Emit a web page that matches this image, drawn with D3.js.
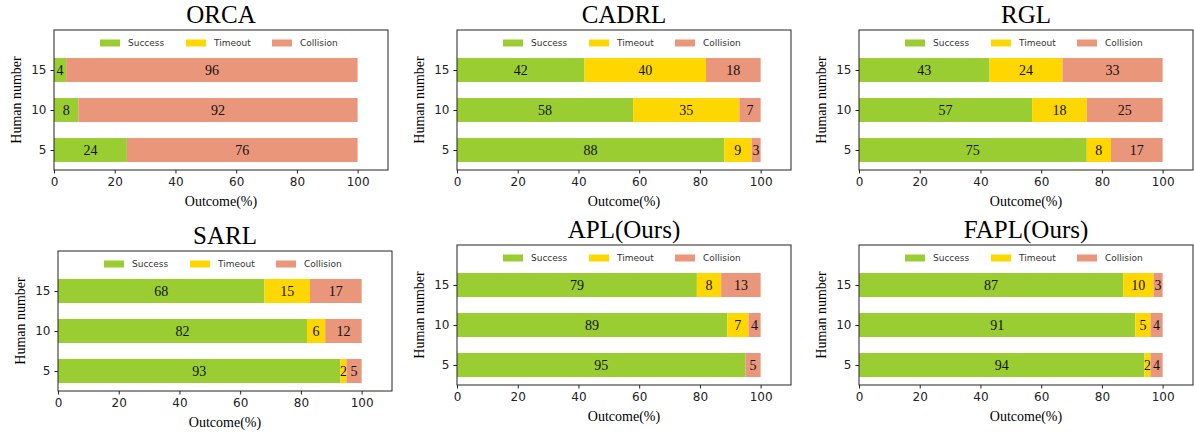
<!DOCTYPE html>
<html>
<head>
<meta charset="utf-8">
<script src="https://cdn.jsdelivr.net/npm/d3@7"></script>
<style>
  body { margin: 0; background: #fff; }
  svg { display: block; }
  .tick text { font-family: "DejaVu Sans", sans-serif; font-size: 12px; fill: #222; }
</style>
</head>
<body>
<svg id="chart" width="1194" height="433"></svg>
<script>
// data
const methods = ["ORCA", "CADRL", "RGL", "SARL", "APL(Ours)", "FAPL(Ours)"];
const humanNumbers = [5, 10, 15];
const outcomes = ["Success", "Timeout", "Collision"];
const successVals   = [[24, 8, 4], [88, 58, 42], [75, 57, 43], [93, 82, 68], [95, 89, 79], [94, 91, 87]];
const timeoutVals   = [[0, 0, 0], [9, 35, 40], [8, 18, 24], [2, 6, 15], [0, 7, 8], [2, 5, 10]];
const collisionVals = [[76, 92, 96], [3, 7, 18], [17, 25, 33], [5, 12, 17], [5, 4, 13], [4, 4, 3]];
const xTicks = [0, 20, 40, 60, 80, 100];

const colors = d3.scaleOrdinal().domain(outcomes).range(["#9acd32", "#ffd700", "#e9967a"]);

// where each subplot's axes box sits
const panels = [
  {left: 54, top: 30}, {left: 457, top: 30}, {left: 859, top: 30},
  {left: 58, top: 251}, {left: 457, top: 245}, {left: 859, top: 245}
];
const boxW = 334, boxH = 140;

const svg = d3.select("#chart");

methods.forEach((name, m) => {
  const p = panels[m];
  const g = svg.append("g").attr("transform", `translate(${p.left},${p.top})`);

  const x = d3.scaleLinear().domain([0, 110]).range([0, boxW]);
  const y = d3.scaleLinear().domain([-0.5, 3]).range([boxH, 0]);

  const rows = humanNumbers.map((h, i) => ({
    idx: i, Success: successVals[m][i], Timeout: timeoutVals[m][i], Collision: collisionVals[m][i]
  }));
  const stacked = d3.stack().keys(outcomes)(rows);

  const layers = g.selectAll(".layer").data(stacked).enter().append("g")
    .attr("fill", d => colors(d.key));
  layers.selectAll("rect").data(d => d).enter().append("rect")
    .attr("x", d => x(d[0]))
    .attr("width", d => x(d[1]) - x(d[0]))
    .attr("y", d => y(d.data.idx + 0.3))
    .attr("height", d => y(d.data.idx - 0.3) - y(d.data.idx + 0.3));

  // value labels, skip empty segments
  layers.selectAll("text").data(d => d.filter(v => v[1] - v[0] > 0)).enter().append("text")
    .attr("x", d => x((d[0] + d[1]) / 2))
    .attr("y", d => y(d.data.idx))
    .attr("dy", "0.35em")
    .attr("text-anchor", "middle")
    .attr("fill", "#111")
    .style("font-family", "Liberation Serif, serif")
    .style("font-size", "14px")
    .text(d => d[1] - d[0]);

  // axes
  g.append("g").attr("transform", `translate(0,${boxH})`)
    .call(d3.axisBottom(x).tickValues(xTicks).tickSize(3.5).tickSizeOuter(0).tickPadding(4))
    .call(a => a.select(".domain").remove());
  g.append("g")
    .call(d3.axisLeft(y).tickValues([0, 1, 2]).tickFormat(i => humanNumbers[i]).tickSize(3.5).tickSizeOuter(0).tickPadding(4))
    .call(a => a.select(".domain").remove());
  g.selectAll(".tick line").attr("stroke", "#222");

  g.append("rect").attr("width", boxW).attr("height", boxH)
    .attr("fill", "none").attr("stroke", "#222").attr("stroke-width", 1);

  // legend, upper centre, 3 columns
  const leg = g.append("g").attr("transform", `translate(${boxW / 2 - 121},13)`);
  outcomes.forEach((o, k) => {
    const it = leg.append("g").attr("transform", `translate(${k * 86},0)`);
    it.append("rect").attr("x", 0).attr("y", -3.5).attr("width", 20).attr("height", 7).attr("fill", colors(o));
    it.append("text").attr("x", 28).attr("y", 0).attr("dy", "0.35em")
      .style("font-family", "DejaVu Sans, sans-serif").style("font-size", "9px").attr("fill", "#333")
      .text(o);
  });

  // titles
  g.append("text").attr("x", boxW / 2).attr("y", -7).attr("text-anchor", "middle")
    .style("font-family", "Liberation Serif, serif").style("font-size", "25px").text(name);
  g.append("text").attr("x", boxW / 2).attr("y", boxH + 36).attr("text-anchor", "middle")
    .style("font-family", "Liberation Serif, serif").style("font-size", "14px").text("Outcome(%)");
  g.append("text").attr("transform", `translate(-33,${boxH / 2}) rotate(-90)`).attr("text-anchor", "middle")
    .style("font-family", "Liberation Serif, serif").style("font-size", "14px").text("Human number");
});
</script>
</body>
</html>
